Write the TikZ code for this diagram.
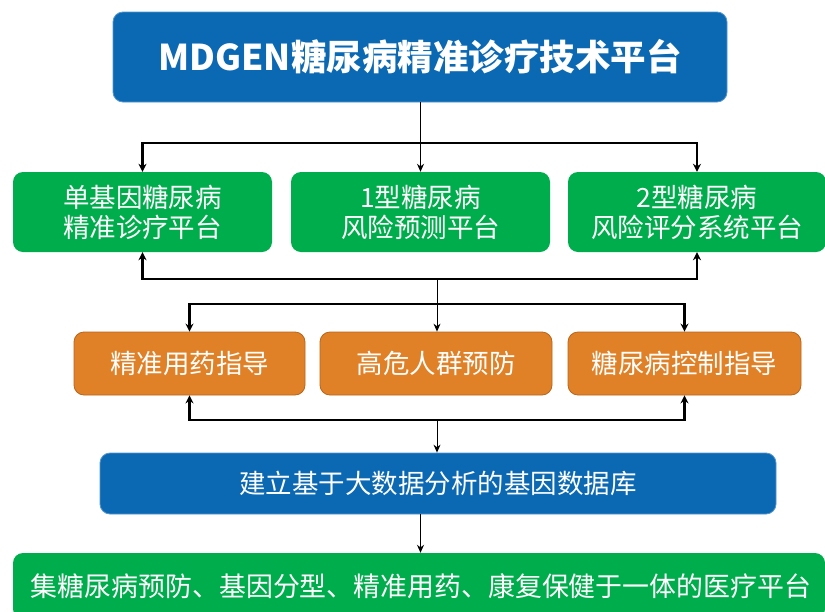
\documentclass[tikz,border=0pt]{standalone}
\usepackage{fontspec}
\setmainfont{Noto Sans CJK SC}
\usetikzlibrary{arrows.meta,calc}
\definecolor{boxblue}{HTML}{0B69B4}
\definecolor{boxgreen}{HTML}{00AD4C}
\definecolor{boxorange}{HTML}{E08127}
\definecolor{edgeorange}{HTML}{B8661C}
\tikzset{
  base/.style={rectangle, rounded corners=10pt, text=white, align=center, inner sep=0pt, font=\fontsize{26.5}{30}\selectfont},
  bluebox/.style={base, fill=boxblue, draw=boxblue!70!white, line width=0.8pt},
  greenbox/.style={base, fill=boxgreen},
  orangebox/.style={base, fill=boxorange, draw=edgeorange, line width=0.8pt},
  brk/.style={line width=2.4pt, {Stealth[length=8pt,width=8pt]}-{Stealth[length=8pt,width=8pt]}},
  thin/.style={line width=1pt, -{Stealth[length=8pt,width=7pt]}},
}
\begin{document}
\begin{tikzpicture}[x=1pt,y=-1pt]
\useasboundingbox (0,0) rectangle (825,611);
\fill[white] (0,0) rectangle (825,611);
% nodes
\node[bluebox, minimum width=614, minimum height=90, font=\fontsize{35.5}{38}\selectfont\bfseries] (top) at (420,57) {MDGEN糖尿病精准诊疗技术平台};
\node[greenbox, minimum width=259, minimum height=80] (g1) at (142.5,212) {单基因糖尿病\\精准诊疗平台};
\node[greenbox, minimum width=259, minimum height=80] (g2) at (420.5,212) {1型糖尿病\\风险预测平台};
\node[greenbox, minimum width=258, minimum height=80] (g3) at (697,212) {2型糖尿病\\风险评分系统平台};
\node[orangebox, minimum width=231, minimum height=63] (o1) at (189.5,363.5) {精准用药指导};
\node[orangebox, minimum width=232, minimum height=63] (o2) at (436,363.5) {高危人群预防};
\node[orangebox, minimum width=233, minimum height=63] (o3) at (684.5,363.5) {糖尿病控制指导};
\node[bluebox, minimum width=676, minimum height=61] (db) at (438,483.5) {建立基于大数据分析的基因数据库};
\node[greenbox, minimum width=812, minimum height=66] (bot) at (419,586) {};
\node[text=white, font=\fontsize{26.9}{30}\selectfont, inner sep=0pt] (bottxt) at (421,586) {集糖尿病预防、基因分型、精准用药、康复保健于一体的医疗平台};
% helper coordinates
\coordinate (h1) at (0,143);
\coordinate (h2) at (0,279);
\coordinate (h3) at (0,304);
\coordinate (h4) at (0,420);
\coordinate (c2) at (437,279);
\coordinate (c4) at (437,420);
% connectors
\draw[thin] (top.south -| g2.north) -- (g2.north);
\draw[brk] (g1.north) |- (g3.north |- h1) -- (g3.north);
\draw[brk] (g1.south) |- (g3.south |- h2) -- (g3.south);
\draw[thin] (c2) -- (c2 |- o2.north);
\draw[brk] (o1.north) |- (o3.north |- h3) -- (o3.north);
\draw[brk] (o1.south) |- (o3.south |- h4) -- (o3.south);
\draw[thin] (c4) -- (c4 |- db.north);
\draw[thin] (db.south -| g2.north) -- (bot.north -| g2.north);
\end{tikzpicture}
\end{document}
